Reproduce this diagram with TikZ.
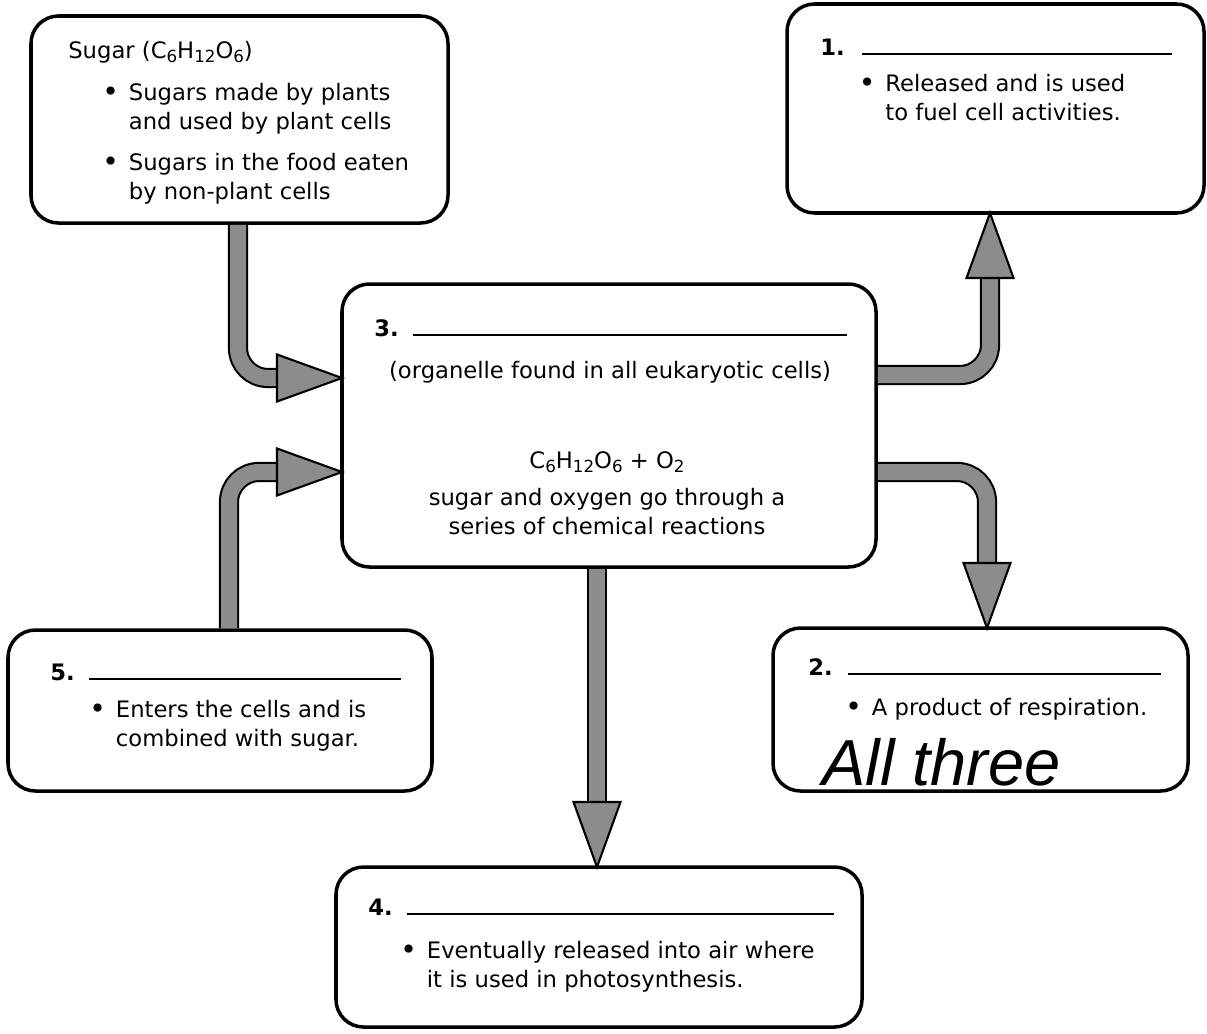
\documentclass[tikz,border=0pt]{standalone}
\usepackage{fontspec}
\setmainfont{DejaVu Sans}
\newfontfamily\hand{Liberation Sans}
\usetikzlibrary{positioning}
\definecolor{shadegray}{gray}{0.55}
\newcommand{\sbs}[1]{\raisebox{-0.35ex}{\fontsize{9.5}{10}\selectfont #1}}
\newcommand{\bul}{\raisebox{-0.1ex}{\fontsize{16}{16}\selectfont\textbullet}}
\tikzset{
    box/.style={draw, line width=2pt, rounded corners=0.55cm, inner sep=0pt, outer sep=0pt},
    shaft/.style={line width=1.2pt, double=shadegray, double distance=0.32cm, rounded corners=0.6cm, shorten <=1pt},
    head/.style={draw, fill=shadegray, line width=1.2pt},
    txt/.style={inner sep=0pt, anchor=base west},
}
\begin{document}
\begin{tikzpicture}[font=\fontsize{12.9}{16.5}\selectfont]
    \pgfmathsetmacro{\hl}{1.3};
    \pgfmathsetmacro{\hw}{0.47};
    \useasboundingbox (0,0) rectangle (24.14,-20.66);
    % boxes
    \node[box, minimum width=8.34cm, minimum height=4.14cm] (sugar) at (4.79,-2.39) {};
    \node[box, minimum width=8.34cm, minimum height=4.18cm] (one) at (19.91,-2.17) {};
    \node[box, minimum width=10.68cm, minimum height=5.66cm] (cell) at (12.18,-8.51) {};
    \node[box, minimum width=8.48cm, minimum height=3.22cm] (five) at (4.40,-14.21) {};
    \node[box, minimum width=8.30cm, minimum height=3.26cm] (two) at (19.61,-14.19) {};
    \node[box, minimum width=10.52cm, minimum height=3.20cm] (four) at (11.98,-18.94) {};
    % texts
    \node[txt] (sugarhd) at (1.36,-1.16) {Sugar (C\sbs{6}H\sbs{12}O\sbs{6})};
    \node[txt] (sugarpts) at (2.04,-2.00) {\begin{tabular}[t]{@{}c@{\hspace{0.2cm}}l@{}}
        \bul & Sugars made by plants\\
             & and used by plant cells\\[0.25cm]
        \bul & Sugars in the food eaten\\
             & by non-plant cells
    \end{tabular}};
    \node[txt] (onehd) at (16.40,-1.10) {\textbf{1.}\hspace{0.35cm}\rule{6.2cm}{1.1pt}};
    \node[txt] (onepts) at (17.17,-1.83) {\begin{tabular}[t]{@{}c@{\hspace{0.2cm}}l@{}}
        \bul & Released and is used\\
             & to fuel cell activities.
    \end{tabular}};
    \node[txt] (cellhd) at (7.48,-6.72) {\textbf{3.}\hspace{0.28cm}\rule{8.68cm}{1.1pt}};
    \node[inner sep=0pt, anchor=base] (cellnote) at (12.20,-7.56) {(organelle found in all eukaryotic cells)};
    \node[inner sep=0pt, anchor=base] (cellrx) at (12.14,-9.36) {\begin{tabular}[t]{@{}c@{}}
        C\sbs{6}H\sbs{12}O\sbs{6} + O\sbs{2}\\[0.16cm]
        sugar and oxygen go through a\\
        series of chemical reactions
    \end{tabular}};
    \node[txt] (fivehd) at (1.00,-13.60) {\textbf{5.}\hspace{0.28cm}\rule{6.24cm}{1.1pt}};
    \node[txt] (fivepts) at (1.78,-14.34) {\begin{tabular}[t]{@{}c@{\hspace{0.2cm}}l@{}}
        \bul & Enters the cells and is\\
             & combined with sugar.
    \end{tabular}};
    \node[txt] (twohd) at (16.16,-13.50) {\textbf{2.}\hspace{0.30cm}\rule{6.26cm}{1.1pt}};
    \node[txt] (twopts) at (16.90,-14.30) {\bul\hspace{0.2cm}A product of respiration.};
    \node[txt, font=\hand\itshape\fontsize{37}{40}\selectfont] (twoans) at (16.44,-15.70) {All three};
    \node[txt] (fourhd) at (7.36,-18.30) {\textbf{4.}\hspace{0.28cm}\rule{8.54cm}{1.1pt}};
    \node[txt] (fourpts) at (8.00,-19.16) {\begin{tabular}[t]{@{}c@{\hspace{0.2cm}}l@{}}
        \bul & Eventually released into air where\\
             & it is used in photosynthesis.
    \end{tabular}};
    % arrow tips
    \coordinate (inS) at ([yshift=0.95cm]cell.west);
    \coordinate (inF) at ([yshift=-0.93cm]cell.west);
    \coordinate (upO) at ([xshift=-0.11cm]one.south);
    \coordinate (dnT) at ([xshift=0.13cm]two.north);
    \coordinate (dnF) at ([xshift=-0.04cm]four.north);
    % shafts
    \draw[shaft] ([xshift=-0.03cm]sugar.south) |- ([xshift=-1.2cm]inS);
    \draw[shaft] ([xshift=0.18cm]five.north) |- ([xshift=-1.2cm]inF);
    \draw[shaft] ([yshift=1.01cm]cell.east) -| ([yshift=-1.2cm]upO);
    \draw[shaft] ([yshift=-0.93cm]cell.east) -| ([yshift=1.2cm]dnT);
    \draw[shaft] (dnF |- cell.south) -- ([yshift=1.2cm]dnF);
    % heads
    \draw[head] (inS) -- ++(-\hl,\hw) -- ++(0,-2*\hw) -- cycle;
    \draw[head] (inF) -- ++(-\hl,\hw) -- ++(0,-2*\hw) -- cycle;
    \draw[head] (upO) -- ++(-\hw,-\hl) -- ++(2*\hw,0) -- cycle;
    \draw[head] (dnT) -- ++(-\hw,\hl) -- ++(2*\hw,0) -- cycle;
    \draw[head] (dnF) -- ++(-\hw,\hl) -- ++(2*\hw,0) -- cycle;
\end{tikzpicture}
\end{document}
